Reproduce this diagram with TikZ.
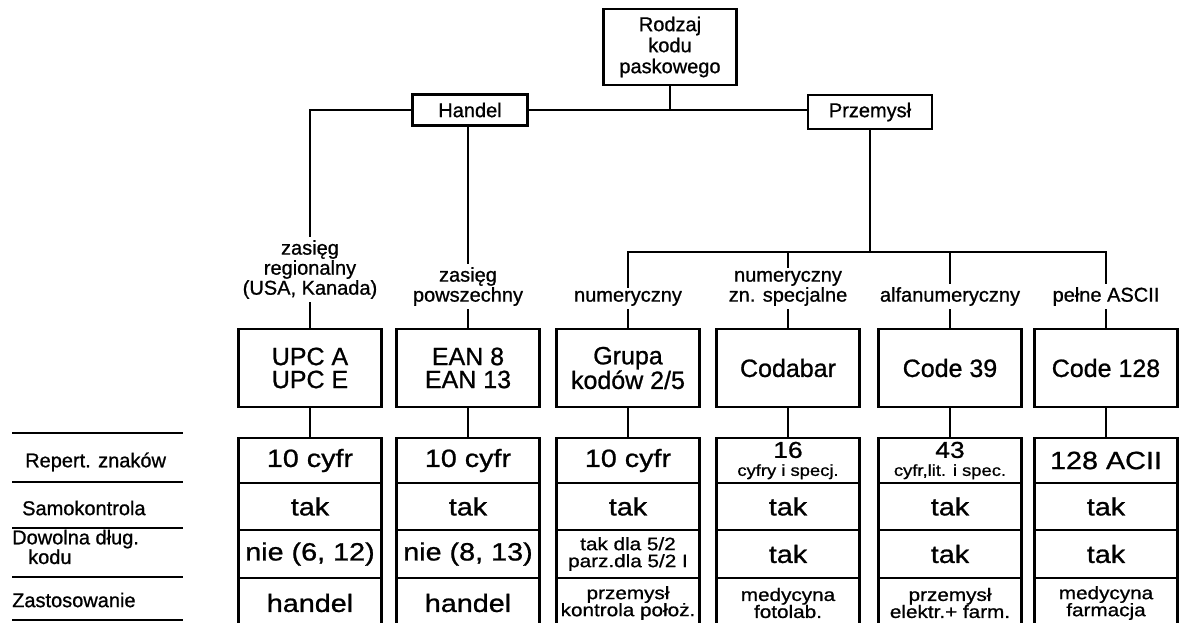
\documentclass[tikz,border=0pt]{standalone}
\usepackage{fontspec}
\setmainfont{Liberation Sans}[RawFeature={embolden=0.9}]
\newfontfamily\cellfont{Liberation Sans}[FakeStretch=1.15, RawFeature={embolden=0.9}]
\usetikzlibrary{positioning}
\tikzset{
    treebox/.style={rectangle, draw=black, line width=2.8pt, align=center,
                    inner sep=0pt, font=\fontsize{20}{21}\selectfont},
    branch/.style={align=center, inner sep=3pt, font=\fontsize{20}{20}\selectfont},
    codebox/.style={rectangle, draw=black, line width=2.8pt, align=center,
                    minimum width=143pt, minimum height=78pt, inner sep=0pt,
                    font=\fontsize{25}{23}\selectfont},
    cell/.style={rectangle, draw=black, line width=2.8pt, align=center,
                 minimum width=143pt, inner sep=0pt,
                 font=\cellfont\fontsize{25}{25}\selectfont},
    smalltxt/.style={font=\cellfont\fontsize{18}{17}\selectfont},
    rowa/.style={cell, minimum height=45pt},
    rowb/.style={cell, minimum height=47pt},
    rowc/.style={cell, minimum height=48pt},
    rowd/.style={cell, minimum height=50pt},
    rowlbl/.style={anchor=west, inner sep=0pt, align=left,
                   font=\fontsize{20}{16}\selectfont},
    link/.style={line width=2.4pt},
}
\newcommand{\bignum}[1]{{\fontsize{23}{23}\selectfont #1}}
\begin{document}
\begin{tikzpicture}[x=1pt, y=-1pt]
    \useasboundingbox (0,0) rectangle (1179,623);
    % drzewo
    \node[treebox, minimum width=133pt, minimum height=76pt] (rodzaj) at (670,47) {Rodzaj\\kodu\\paskowego};
    \node[treebox, minimum width=115pt, minimum height=31pt] (handel) at (470,110) {Handel};
    \node[treebox, minimum width=124pt, minimum height=34pt] (przemysl) at (870,112) {Przemysł};
    \coordinate (split) at (870,252);
    \node[branch, anchor=south] (regio) at (310,302) {zasięg\\regionalny\\(USA, Kanada)};
    \node[branch, anchor=south] (glob) at (468,309) {zasięg\\powszechny};
    \node[branch, anchor=south] (num) at (628,309) {numeryczny};
    \node[branch, anchor=south] (numspec) at (788,309) {numeryczny\\zn. specjalne};
    \node[branch, anchor=south] (alfa) at (950,309) {alfanumeryczny};
    \node[branch, anchor=south] (ascii) at (1106,309) {pełne ASCII};
    \draw[link] (regio.north) |- (handel.west);
    \draw[link] (handel.east) -- (przemysl.west |- handel.east);
    \draw[link] (rodzaj.south) -- (rodzaj.south |- handel.east);
    \draw[link] (glob.north) -- (glob.north |- handel.south);
    \draw[link] (przemysl.south) -- (split);
    \draw[link] (num.north) -- (num.north |- split) -- (ascii.north |- split) -- (ascii.north);
    \draw[link] (numspec.north) -- (numspec.north |- split);
    \draw[link] (alfa.north) -- (alfa.north |- split);
    % kody
    \node[codebox] (upc) at (310,368) {UPC A\\UPC E};
    \node[codebox] (ean) at (468,368) {EAN 8\\EAN 13};
    \node[codebox] (grupa) at (628,368) {Grupa\\kodów 2/5};
    \node[codebox] (codabar) at (788,368) {Codabar};
    \node[codebox] (c39) at (950,368) {Code 39};
    \node[codebox] (c128) at (1106,368) {Code 128};
    \draw[link] (regio.south) -- (upc.north);
    \draw[link] (glob.south) -- (ean.north);
    \draw[link] (num.south) -- (grupa.north);
    \draw[link] (numspec.south) -- (codabar.north);
    \draw[link] (alfa.south) -- (c39.north);
    \draw[link] (ascii.south) -- (c128.north);
    % tabela
    \draw[link] (12,433) -- (183,433) (12,482) -- (183,482) (12,528) -- (183,528)
                (12,577) -- (183,577) (12,620) -- (183,620);
    \node[rowlbl] (rep) at (25,462) {Repert. znaków};
    \node[rowlbl] (samo) at (22,508) {Samokontrola};
    \node[rowlbl] (dlug) at (12,547) {Dowolna dług.\\\hspace*{16pt}kodu};
    \node[rowlbl] (zast) at (12,600) {Zastosowanie};
    \node[rowa] (upc1) at (310,460.5) {10 cyfr};
    \node[rowb] (upc2) at (310,506.5) {tak};
    \node[rowc] (upc3) at (310,554) {nie (6, 12)};
    \node[rowd] (upc4) at (310,603) {handel};
    \node[rowa] (ean1) at (468,460.5) {10 cyfr};
    \node[rowb] (ean2) at (468,506.5) {tak};
    \node[rowc] (ean3) at (468,554) {nie (8, 13)};
    \node[rowd] (ean4) at (468,603) {handel};
    \node[rowa] (grupa1) at (628,460.5) {10 cyfr};
    \node[rowb] (grupa2) at (628,506.5) {tak};
    \node[rowc, smalltxt] (grupa3) at (628,554) {tak dla 5/2\\parz.dla 5/2 I};
    \node[rowd, smalltxt] (grupa4) at (628,603) {przemysł\\kontrola położ.};
    \node[rowa, font=\cellfont\fontsize{16}{16}\selectfont] (codabar1) at (788,460.5) {\bignum{16}\\[2pt]cyfry i specj.};
    \node[rowb] (codabar2) at (788,506.5) {tak};
    \node[rowc] (codabar3) at (788,554) {tak};
    \node[rowd, smalltxt] (codabar4) at (788,603) {medycyna\\fotolab.};
    \node[rowa, font=\cellfont\fontsize{16}{16}\selectfont] (c391) at (950,460.5) {\bignum{43}\\[2pt]cyfr,lit. i spec.};
    \node[rowb] (c392) at (950,506.5) {tak};
    \node[rowc] (c393) at (950,554) {tak};
    \node[rowd, smalltxt] (c394) at (950,603) {przemysł\\elektr.+ farm.};
    \node[rowa] (c1281) at (1106,460.5) {128 ACII};
    \node[rowb] (c1282) at (1106,506.5) {tak};
    \node[rowc] (c1283) at (1106,554) {tak};
    \node[rowd, smalltxt] (c1284) at (1106,603) {medycyna\\farmacja};
    \draw[link] (upc.south) -- (upc1.north);
    \draw[link] (ean.south) -- (ean1.north);
    \draw[link] (grupa.south) -- (grupa1.north);
    \draw[link] (codabar.south) -- (codabar1.north);
    \draw[link] (c39.south) -- (c391.north);
    \draw[link] (c128.south) -- (c1281.north);
\end{tikzpicture}
\end{document}
